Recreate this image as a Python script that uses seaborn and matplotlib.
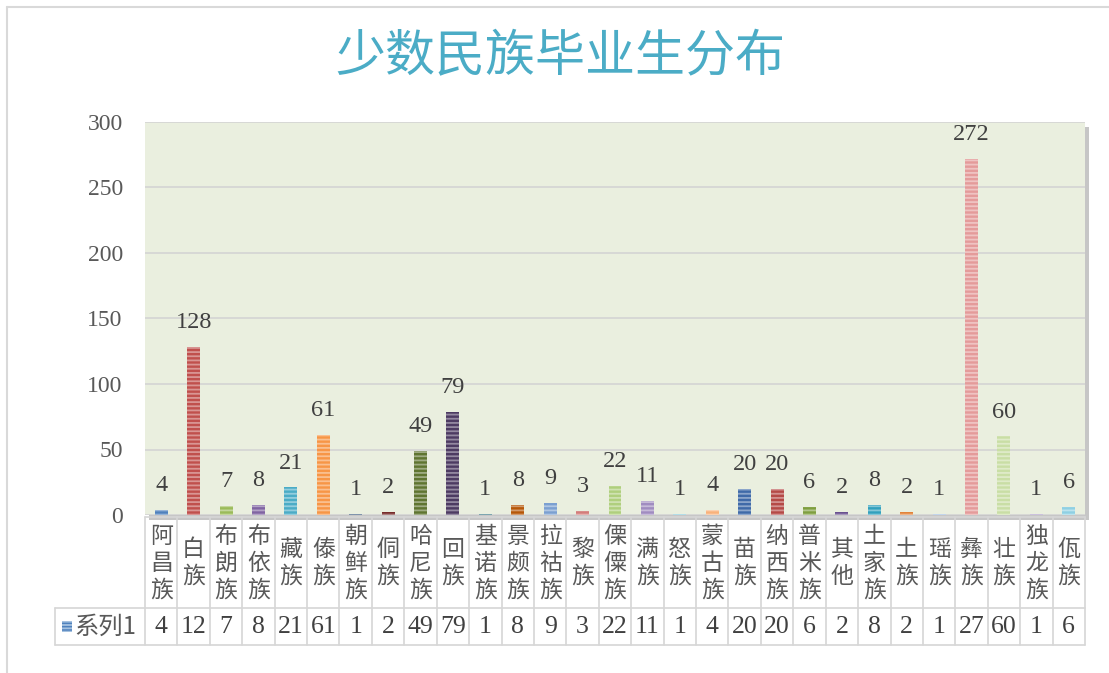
import matplotlib
matplotlib.use('Agg')
import matplotlib.pyplot as plt
import seaborn as sns
import pandas as pd
from matplotlib.colors import to_rgb
from matplotlib.patches import Rectangle
from matplotlib.lines import Line2D

categories = ["阿昌族", "白族", "布朗族", "布依族", "藏族", "傣族", "朝鲜族", "侗族", "哈尼族",
              "回族", "基诺族", "景颇族", "拉祜族", "黎族", "傈僳族", "满族", "怒族", "蒙古族",
              "苗族", "纳西族", "普米族", "其他", "土家族", "土族", "瑶族", "彝族", "壮族",
              "独龙族", "佤族"]
values = [4, 128, 7, 8, 21, 61, 1, 2, 49, 79, 1, 8, 9, 3, 22, 11, 1, 4, 20, 20, 6, 2, 8, 2, 1,
          272, 60, 1, 6]
series_name = "系列1"
title = "少数民族毕业生分布"
yticks = [0, 50, 100, 150, 200, 250, 300]
bar_colors = ["#4f81bd", "#c0504d", "#9bbb59", "#8064a2", "#4bacc6", "#f79646",
              "#2c4d75", "#772c2a", "#5f7530", "#4d3b62", "#276a7c", "#b65708",
              "#7ba0d1", "#d37d7a", "#afcf7d", "#a08cc0", "#7fc6d9", "#f9b27a",
              "#3f6aa8", "#b54a47", "#7f9f3f", "#6a5190", "#31a0bd", "#e2833a",
              "#9ab9e0", "#e49b9a", "#c9dea5", "#a997c6", "#8fd0e3"]

W, H = 1109, 673
def fx(px):
    return px / W
def fy(px):
    return 1 - px / H

sns.set_style("white")
plt.rcParams['font.family'] = ['Noto Sans CJK SC', 'DejaVu Sans']
plt.rcParams['hatch.linewidth'] = 1.3

fig = plt.figure(figsize=(W / 100, H / 100), dpi=100)
fig.patch.set_facecolor('white')

# outer chart border (top & left)
fig.add_artist(Line2D([fx(7), 1], [fy(7), fy(7)], color='#d9d9d9', lw=1.5, transform=fig.transFigure))
fig.add_artist(Line2D([fx(7), fx(7)], [fy(7), 0], color='#d9d9d9', lw=1.5, transform=fig.transFigure))

pl, pr, pt, pb = 145, 1085, 122, 515
ax = fig.add_axes([fx(pl), fy(pb), fx(pr - pl), (pb - pt) / H])
# shadow behind plot area
fig.add_artist(Rectangle((fx(pl + 4), fy(pb + 5)), fx(pr - pl), (pb - pt) / H,
                         transform=fig.transFigure, facecolor='#b8b8b8', edgecolor='none',
                         zorder=-1, alpha=0.8))

df = pd.DataFrame({"cat": categories, "val": values})
sns.barplot(data=df, x="cat", y="val", hue="cat", palette=bar_colors, order=categories,
            hue_order=categories, width=0.4, legend=False, ax=ax, saturation=1)

for p in ax.patches:
    c = to_rgb(p.get_facecolor())
    light = tuple(ci + (1 - ci) * 0.4 for ci in c)
    p.set_hatch('----')
    p.set_edgecolor(light)
    p.set_linewidth(0)

ax.set_facecolor('#eaefdf')
ax.set_xlim(-0.5, len(categories) - 0.5)
ax.set_ylim(0, 300)
ax.set_yticks(yticks)
ax.set_yticklabels([str(t) for t in yticks], fontfamily='Liberation Serif', fontsize=17, color='#595959')
ax.tick_params(axis='y', length=0, pad=16)
ax.set_xticks([])
ax.set_xlabel('')
ax.set_ylabel('')
ax.grid(axis='y', color='#d4d4d4', lw=1.2)
ax.set_axisbelow(True)
for s in ax.spines.values():
    s.set_visible(False)

for i, v in enumerate(values):
    ax.annotate(str(v), (i, v), xytext=(0, 10), textcoords='offset points', ha='center', va='bottom',
                fontfamily='Liberation Serif', fontsize=17.5, color='#404040')

# data table
tab = fig.add_axes([fx(pl), fy(645), fx(pr - pl), 128 / H])
tab.set_xlim(-0.5, len(categories) - 0.5)
tab.set_ylim(128, 0)
tab.axis('off')
colw = (pr - pl) / len(categories)
x0 = -0.5 - 90 / colw
lc = '#d6d6d6'
kw = dict(color=lc, lw=1.2, clip_on=False)
tab.plot([-0.5, len(categories) - 0.5], [0, 0], **kw)
tab.plot([x0, len(categories) - 0.5], [91, 91], **kw)
tab.plot([x0, len(categories) - 0.5], [128, 128], **kw)
for i in range(len(categories) + 1):
    tab.plot([i - 0.5, i - 0.5], [0, 128], **kw)
tab.plot([x0, x0], [91, 128], **kw)

for i, (c, v) in enumerate(zip(categories, values)):
    tab.text(i, 46, "\n".join(c), ha='center', va='center', fontsize=16.5, color='#595959',
             linespacing=1.2, fontweight='light')
    s = str(v)
    disp = s if len(s) <= 2 else s[:2]
    tab.text(i, 110, disp, ha='center', va='center', fontfamily='Liberation Serif',
             fontsize=18.5, color='#404040')

# legend key + series name
kx = x0 + 7 / colw
tab.add_patch(Rectangle((kx, 104), 10 / colw, 11, facecolor='#4f81bd', edgecolor=(0.65, 0.76, 0.88),
                        hatch='-----', lw=0, clip_on=False))
tab.text(kx + 12 / colw, 110, series_name, ha='left', va='center', fontsize=17.5, color='#595959',
         family=['Noto Sans CJK SC', 'DejaVu Sans'], fontweight='light', clip_on=False)

fig.text(0.505, fy(57), title, ha='center', va='center', fontsize=36, color='#4bacc6')

fig.savefig('out.png', dpi=100)
